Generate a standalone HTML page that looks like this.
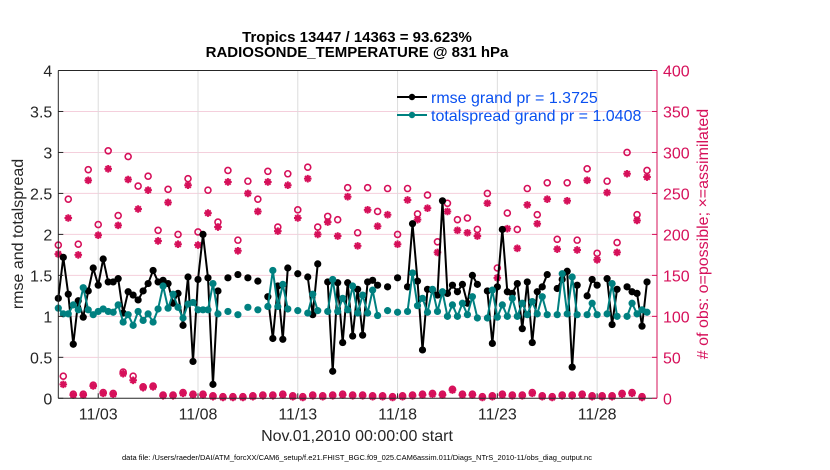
<!DOCTYPE html>
<html><head><meta charset="utf-8">
<style>
html,body{margin:0;padding:0;background:#fff;}
svg{display:block;font-family:"Liberation Sans",Arial,sans-serif;}
</style></head>
<body>
<svg id="chart" width="830" height="470" viewBox="0 0 830 470" xmlns="http://www.w3.org/2000/svg">
  <g id="grid"></g>
  <g id="marks"></g>
  <g id="axes"></g>
  <text x="357" y="42" text-anchor="middle" font-size="15" font-weight="bold" fill="#000">Tropics 13447 / 14363 = 93.623%</text>
  <text x="357" y="57" text-anchor="middle" font-size="15" font-weight="bold" fill="#000">RADIOSONDE_TEMPERATURE @ 831 hPa</text>
  <text transform="translate(23,234) rotate(-90)" text-anchor="middle" font-size="16" fill="#262626">rmse and totalspread</text>
  <text transform="translate(708,234) rotate(-90)" text-anchor="middle" font-size="16" fill="#d6105a">&#35; of obs: o=possible; &#215;=assimilated</text>
  <text x="357" y="441" text-anchor="middle" font-size="16" fill="#262626">Nov.01,2010 00:00:00 start</text>
  <text x="357" y="460" text-anchor="middle" font-size="7.5" fill="#000">data file: /Users/raeder/DAI/ATM_forcXX/CAM6_setup/f.e21.FHIST_BGC.f09_025.CAM6assim.011/Diags_NTrS_2010-11/obs_diag_output.nc</text>
  <g id="legend"></g>
</svg>
<script>
const rmse = [1.22,1.72,1.27,0.66,1.19,0.99,1.31,1.59,1.38,1.70,1.42,1.42,1.46,1.04,1.30,1.26,1.20,1.31,1.40,1.56,1.42,1.44,1.40,1.16,1.28,0.89,1.48,0.45,1.45,2.00,1.47,0.17,1.31,
null,1.47,null,1.51,null,1.47,null,1.43,null,
1.24,0.73,1.37,0.72,1.59,null,1.52,null,1.48,1.02,1.64,null,
1.42,0.33,1.41,0.68,1.41,0.76,1.33,0.77,1.42,1.44,1.38,null,1.36,null,1.47,null,
1.36,2.13,1.43,0.59,1.33,1.32,1.26,2.41,1.28,1.38,1.30,1.39,1.16,1.50,1.39,null,
1.31,0.67,1.36,2.06,1.30,1.28,1.40,0.85,1.42,0.68,1.30,1.36,1.51,null,
1.34,1.45,1.55,0.38,1.38,null,1.25,1.45,1.38,null,1.46,0.90,1.33,null,1.36,1.30,1.28,0.88,1.42];
const spread = [1.10,1.03,1.03,1.14,1.08,1.35,1.08,1.02,1.06,1.09,1.06,1.05,1.14,0.93,1.02,0.89,1.06,0.95,1.03,0.93,1.09,1.37,1.10,1.27,1.11,0.98,1.15,1.17,1.08,1.08,1.08,1.40,1.03,
null,1.06,null,1.02,null,1.11,null,1.08,null,
1.12,1.56,1.12,1.39,1.09,null,1.07,null,1.04,1.27,1.07,null,
1.06,1.45,1.06,1.22,1.08,1.37,1.04,1.26,1.04,1.32,1.01,null,1.07,null,1.05,null,
1.06,1.53,1.13,1.22,1.05,1.33,1.06,1.30,1.00,1.14,1.00,1.16,1.02,1.24,0.98,null,
0.98,1.32,0.99,1.14,1.00,1.22,1.00,1.16,1.02,1.18,1.03,1.24,1.02,null,
1.02,1.52,1.03,1.48,1.02,null,1.02,1.16,1.02,null,1.03,1.40,1.00,null,1.00,1.16,1.03,1.08,1.05];
const nPossible = [187,27,243,5,188,5,279,16,212,7,
302,6,223,32,295,27,259,14,271,15,
205,4,255,4,200,7,268,5,203,5,
254,3,215,2,278,2,193,2,265,3,
243,4,277,4,209,5,274,3,230,2,
282,4,209,3,222,4,218,5,257,4,
202,4,257,3,228,3,256,2,200,3,
256,4,225,5,248,6,191,5,238,11,
218,5,220,5,206,2,250,3,159,5,
226,4,206,4,256,7,224,3,263,2,
194,4,263,4,193,5,280,3,177,3,
265,3,190,6,300,7,224,2,278];
const nAssim = [176,17,220,4,175,4,266,15,199,6,
280,5,211,30,267,22,231,13,254,14,
192,3,239,3,188,6,260,4,187,4,
226,2,209,1,264,1,180,1,250,2,
228,3,264,3,204,4,260,2,220,1,
268,3,200,2,215,3,198,4,246,3,
186,3,230,2,210,2,224,1,188,2,
242,3,218,4,232,5,178,4,228,10,
205,4,202,4,198,1,238,2,147,4,
207,3,183,3,236,6,213,2,243,1,
182,3,241,3,181,4,266,2,169,2,
251,2,178,5,274,6,217,1,270];
const xTickLabels = ["11/03","11/08","11/13","11/18","11/23","11/28"];
const xTickDays = [2,7,12,17,22,27];
const yLeftTicks = ["0","0.5","1","1.5","2","2.5","3","3.5","4"];
const yRightTicks = ["0","50","100","150","200","250","300","350","400"];
const legendLabels = ["rmse grand pr = 1.3725","totalspread grand pr = 1.0408"];

const NS="http://www.w3.org/2000/svg";
const L=58.3, R=657, T=70.5, B=398.3;
const stepsPerDay=4, nDays=30;
function xs(i){return L + i*(R-L)/(nDays*stepsPerDay);}
function yl(v){return B - v/4*(B-T);}
function yr(c){return B - c/400*(B-T);}
function mk(tag,attrs,parent){const e=document.createElementNS(NS,tag);for(const k in attrs)e.setAttribute(k,attrs[k]);parent.appendChild(e);return e;}
const grid=document.getElementById('grid'), marks=document.getElementById('marks'), axes=document.getElementById('axes'), legend=document.getElementById('legend');
const PINK="#d6105a", TEAL="#008080";

// grid
for(let k=1;k<yRightTicks.length-1;k++){
  const y=yr(+yRightTicks[k]);
  const g=mk('line',{x1:L,x2:R,y1:y,y2:y,stroke:'#f4cfdc','stroke-width':1},grid);
  
  
}
xTickDays.forEach(d=>{
  const x=xs(d*stepsPerDay);
  const g=mk('line',{x1:x,x2:x,y1:T,y2:B,stroke:'#dcdcdc','stroke-width':1},grid);
  
  
});

// magenta obs counts
nPossible.forEach((c,i)=>{
  if(c==null)return;
  const m=mk('circle',{cx:xs(i),cy:yr(c),r:3,fill:'none',stroke:PINK,'stroke-width':1.6},marks);
  
  
});
nAssim.forEach((c,i)=>{
  if(c==null)return;
  const x=xs(i), y=yr(c), r=3.8, d=2.7;
  const p=mk('path',{d:`M${x-r},${y}H${x+r}M${x},${y-r}V${y+r}M${x-d},${y-d}L${x+d},${y+d}M${x-d},${y+d}L${x+d},${y-d}`,stroke:PINK,'stroke-width':2,fill:'none'},marks);
  
  
});

function drawSeries(arr,color,name){
  let d='';let pen=false;
  arr.forEach((v,i)=>{
    if(v==null){pen=false;return;}
    d+=(pen?'L':'M')+xs(i).toFixed(2)+','+yl(v).toFixed(2);pen=true;
  });
  const p=mk('path',{d:d,stroke:color,'stroke-width':2,fill:'none','stroke-linejoin':'round'},marks);
  
  
  arr.forEach((v,i)=>{
    if(v==null)return;
    const c=mk('circle',{cx:xs(i),cy:yl(v),r:3.6,fill:color},marks);
    
    
  });
}
drawSeries(rmse,'#000','rmse');
drawSeries(spread,TEAL,'totalspread');

// axes
let a=mk('line',{x1:L,x2:L,y1:T,y2:B,stroke:'#262626','stroke-width':1},axes);


a=mk('line',{x1:L,x2:R,y1:B,y2:B,stroke:'#262626','stroke-width':1},axes);


a=mk('line',{x1:L,x2:R,y1:T,y2:T,stroke:'#262626','stroke-width':1},axes);


a=mk('line',{x1:R,x2:R,y1:T,y2:B,stroke:PINK,'stroke-width':1},axes);



yLeftTicks.forEach(s=>{
  const y=yl(+s);
  const t=mk('line',{x1:L,x2:L+5,y1:y,y2:y,stroke:'#262626'},axes);
  
  
  const tx=mk('text',{x:L-6,y:y+6,'text-anchor':'end','font-size':16,fill:'#262626'},axes);
  tx.textContent=s;
  
  
});
yRightTicks.forEach(s=>{
  const y=yr(+s);
  const t=mk('line',{x1:R-5,x2:R,y1:y,y2:y,stroke:PINK},axes);
  
  
  const tx=mk('text',{x:R+6,y:y+6,'text-anchor':'start','font-size':16,fill:PINK},axes);
  tx.textContent=s;
  
  
});
xTickDays.forEach((d,k)=>{
  const x=xs(d*stepsPerDay);
  const t=mk('line',{x1:x,x2:x,y1:B,y2:B-5,stroke:'#262626'},axes);
  
  
  const tx=mk('text',{x:x,y:B+21,'text-anchor':'middle','font-size':16,fill:'#262626'},axes);
  tx.textContent=xTickLabels[k];
  
  
});

// legend
[['#000',97],[TEAL,115]].forEach((s,k)=>{
  const ln=mk('line',{x1:397,x2:427,y1:s[1],y2:s[1],stroke:s[0],'stroke-width':2},legend);
  
  
  const c=mk('circle',{cx:412,cy:s[1],r:3.2,fill:s[0]},legend);
  
  
  const tx=mk('text',{x:431,y:s[1]+6,'font-size':16,fill:'#0a50f0'},legend);
  tx.textContent=legendLabels[k];
  
  
});
</script>
</body></html>
